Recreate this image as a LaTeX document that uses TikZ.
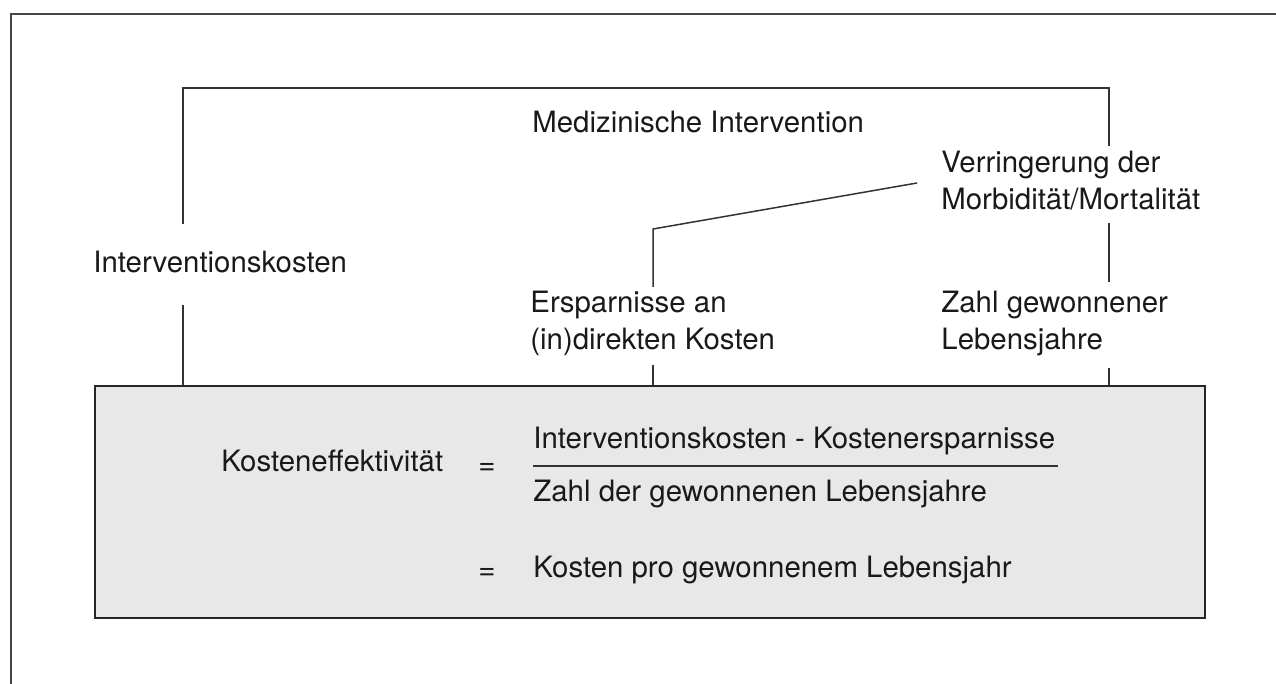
\documentclass[tikz,border=0pt]{standalone}
\usepackage{fontspec}
\setmainfont{TeX Gyre Heros}
\usepackage{tikz}
\usetikzlibrary{positioning,calc}
\tikzstyle{lbl}=[inner sep=0pt,font=\fontsize{14.7}{18.8}\selectfont,text=black!90,align=left]
\tikzstyle{con}=[draw=black!80,line width=0.75pt]

\begin{document}
\begin{tikzpicture}[x=0.5pt,y=-0.5pt]
\useasboundingbox (0,0) rectangle (1276,684);
% outer frame
\draw[black!72,line width=1.3pt] (11,684) -- (11,14) -- (1276,14);
% grey box
\node[draw=black!85,fill=black!9,line width=1pt,inner sep=0pt,
      minimum width=555pt,minimum height=116pt,anchor=north west] (box) at (94,385) {};

\node[lbl,anchor=base west] (medint) at (532,133) {Medizinische Intervention};
\node[lbl,anchor=base west] (ikost) at (93,273) {Interventionskosten};
% base = last line of the node
\node[lbl,anchor=base west] (verr) at (941,210) {Verringerung der\\Morbidität/Mortalität};
\node[lbl,anchor=base west] (ersp) at (530,350) {Ersparnisse an\\(in)direkten Kosten};
\node[lbl,anchor=base west] (zahl) at (941,350) {Zahl gewonnener\\Lebensjahre};

% bracket
\coordinate (tl) at (183,88);
\coordinate (tr) at (1109,88);
\coordinate (l1) at (183,224);
\coordinate (l2) at (183,305);
\coordinate (r1) at (1109,146);
\coordinate (r2) at (1109,223);
\coordinate (r3) at (1109,282);
\coordinate (r4) at (1109,368);
\coordinate (m1) at (653,229);
\coordinate (m2) at (653,287);
\coordinate (m3) at (653,365);
\coordinate (s) at (917,183);
\draw[con] (l1) -- (tl) -- (tr) -- (r1);
\draw[con] (r2) -- (r3);
\draw[con] (s) -- (m1) -- (m2);
\draw[con] (l2) -- (l2 |- box.north);
\draw[con] (m3) -- (m3 |- box.north);
\draw[con] (r4) -- (r4 |- box.north);

% formula
\node[lbl,anchor=base west] (keff) at (221,472) {Kosteneffektivität};
\node[lbl,anchor=base west] (eq1) at (478,474) {=};
\node[lbl,anchor=base west] (num) at (533,449) {Interventionskosten - Kostenersparnisse};
\node[lbl,anchor=base west] (den) at (533,502) {Zahl der gewonnenen Lebensjahre};
\coordinate (fl) at (533,466);
\draw[black!80,line width=1pt] (fl) -- ([xshift=1pt]num.east |- fl);
\node[lbl,anchor=base west] (eq2) at (478,580) {=};
\node[lbl,anchor=base west] (kpl) at (533,577) {Kosten pro gewonnenem Lebensjahr};
\end{tikzpicture}
\end{document}
